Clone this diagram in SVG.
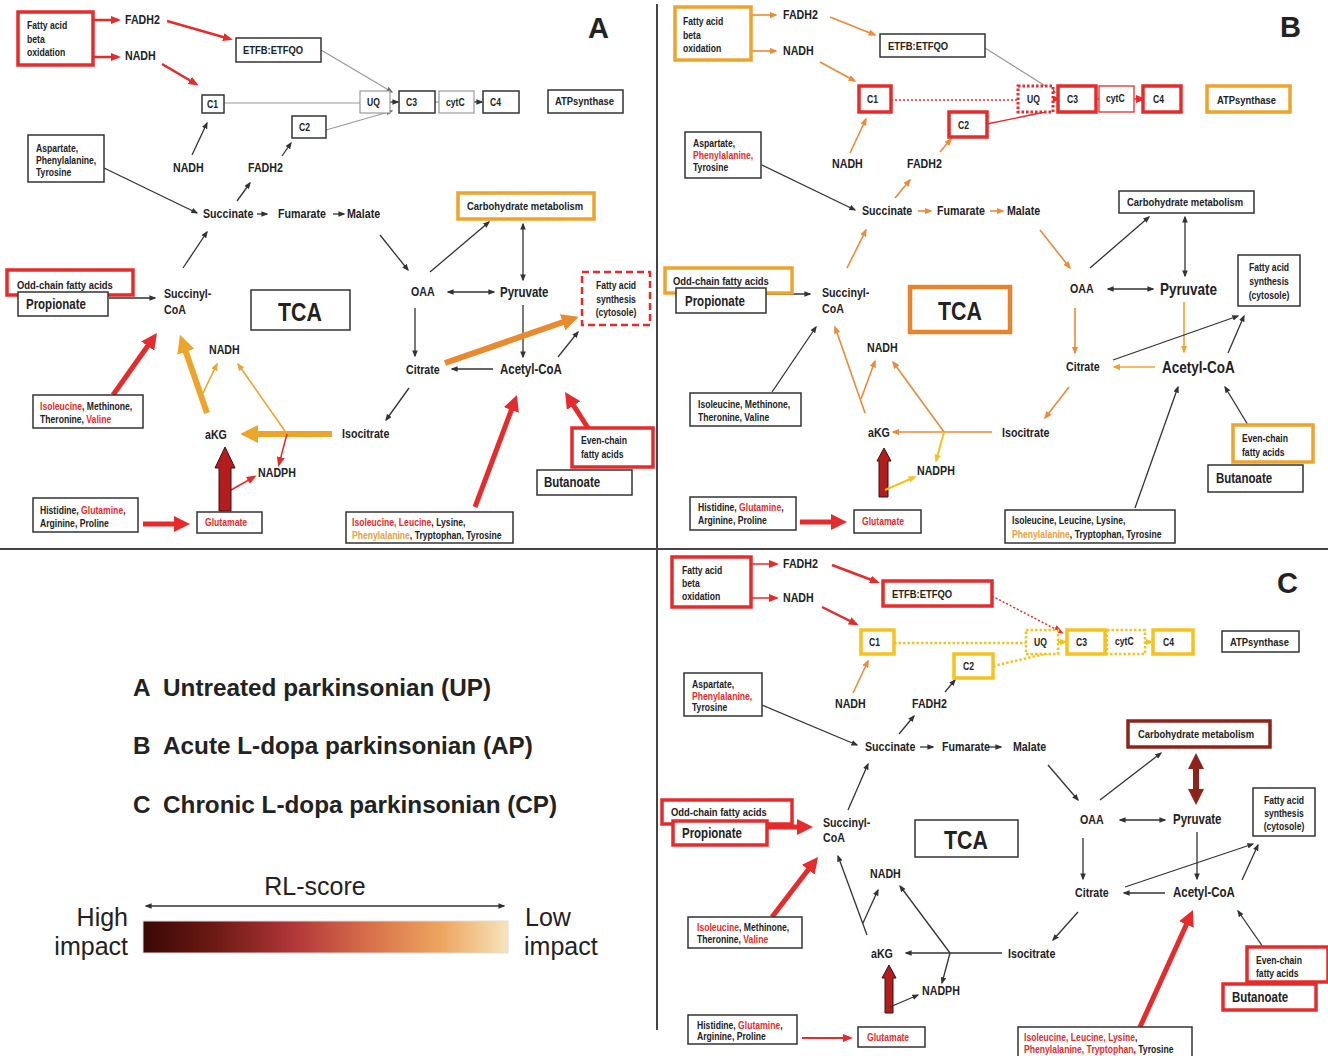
<svg xmlns="http://www.w3.org/2000/svg" width="1328" height="1056" viewBox="0 0 1328 1056">
<style>
text{font-family:"Liberation Sans Narrow","Liberation Sans",Arial,sans-serif;font-weight:bold;fill:#222;transform-box:fill-box;transform-origin:0% 50%;transform:scaleX(0.82)}
.m{font-size:13px}
.m14{font-size:14px}
.mb{font-size:16.5px}
.s{font-size:10.5px}
.s11{font-size:11.5px}
.p{font-size:14px}
.tca{font-size:26px;text-anchor:middle;transform-origin:50% 50%}
.big{font-family:"Liberation Sans",Arial,sans-serif;font-size:29px;transform:none}
.c{text-anchor:middle;transform-origin:50% 50%}
.lg{font-family:"Liberation Sans",Arial,sans-serif;transform:none}
.r{fill:#e52b2b}
.o{fill:#e8a040}
rect{fill:#fff}
.bx{stroke:#333;stroke-width:1.5}
.bg{stroke:#999;stroke-width:1.2}
.bR{stroke:#e52b2b;stroke-width:3.5}
.bRt{stroke:#e52b2b;stroke-width:1.3}
.bRd{stroke:#e52b2b;stroke-width:3;stroke-dasharray:2.5 2}
.bRD{stroke:#e52b2b;stroke-width:2.5;stroke-dasharray:7 4}
.bA{stroke:#eda42a;stroke-width:3.5}
.bT{stroke:#e8842e;stroke-width:4.5}
.bY{stroke:#f6c21c;stroke-width:3.5}
.bYd{stroke:#f6c21c;stroke-width:2.5;stroke-dasharray:2.5 2}
.bD{stroke:#8e2419;stroke-width:3.5}
#conn line{fill:none}
.k{stroke:#333;stroke-width:1.3;marker-end:url(#mk)}
.kd{stroke:#333;stroke-width:1.3;marker-end:url(#mk);marker-start:url(#mk)}
.g{stroke:#999;stroke-width:1.2;marker-end:url(#mg)}
.gn{stroke:#999;stroke-width:1.2}
.rt{stroke:#e52b2b;stroke-width:2.5;marker-end:url(#mr)}
.rs{stroke:#e52b2b;stroke-width:1.5;marker-end:url(#mr)}
.rd{stroke:#e52b2b;stroke-width:1.5;stroke-dasharray:2 2;marker-end:url(#mr)}
.rdn{stroke:#e52b2b;stroke-width:1.6;stroke-dasharray:2 2}
.rn{stroke:#e52b2b;stroke-width:1.3}
.R{stroke:#e52b2b;stroke-width:5;marker-end:url(#MR)}
.os{stroke:#ec8a36;stroke-width:1.6;marker-end:url(#mo)}
.as{stroke:#eda42a;stroke-width:1.6;marker-end:url(#ma)}
.ys{stroke:#f3c21d;stroke-width:2;marker-end:url(#my)}
.yd{stroke:#f6c21c;stroke-width:2.5;stroke-dasharray:2.5 2}
.O{stroke:#ea8a2e;stroke-width:6;marker-end:url(#MO)}
.A{stroke:#eda42a;stroke-width:6;marker-end:url(#MA)}
.D{stroke:#8e2419;stroke-width:6;marker-end:url(#MD);marker-start:url(#MD)}
.blk{fill:#b31d1d;stroke:#3a1010;stroke-width:1}
.div{stroke:#444;stroke-width:2}
</style>
<defs>
<marker id="mk" viewBox="0 0 10 8" refX="8" refY="4" markerWidth="7" markerHeight="5.6" markerUnits="userSpaceOnUse" orient="auto-start-reverse"><path d="M0,0 L10,4 L0,8 z" fill="#333"/></marker>
<marker id="mg" viewBox="0 0 10 8" refX="8" refY="4" markerWidth="7" markerHeight="5.6" markerUnits="userSpaceOnUse" orient="auto"><path d="M0,0 L10,4 L0,8 z" fill="#666"/></marker>
<marker id="mr" viewBox="0 0 10 8" refX="7" refY="4" markerWidth="10" markerHeight="8" markerUnits="userSpaceOnUse" orient="auto"><path d="M0,0 L10,4 L0,8 z" fill="#e52b2b"/></marker>
<marker id="mo" viewBox="0 0 10 8" refX="8" refY="4" markerWidth="8" markerHeight="6.4" markerUnits="userSpaceOnUse" orient="auto"><path d="M0,0 L10,4 L0,8 z" fill="#ec8a36"/></marker>
<marker id="ma" viewBox="0 0 10 8" refX="8" refY="4" markerWidth="8" markerHeight="6.4" markerUnits="userSpaceOnUse" orient="auto"><path d="M0,0 L10,4 L0,8 z" fill="#eda42a"/></marker>
<marker id="my" viewBox="0 0 10 8" refX="8" refY="4" markerWidth="8" markerHeight="6.4" markerUnits="userSpaceOnUse" orient="auto"><path d="M0,0 L10,4 L0,8 z" fill="#f3c21d"/></marker>
<marker id="MR" viewBox="0 0 10 10" refX="4" refY="5" markerWidth="16" markerHeight="16" markerUnits="userSpaceOnUse" orient="auto"><path d="M0,0 L10,5 L0,10 z" fill="#e52b2b"/></marker>
<marker id="MO" viewBox="0 0 10 10" refX="4" refY="5" markerWidth="17" markerHeight="17" markerUnits="userSpaceOnUse" orient="auto"><path d="M0,0 L10,5 L0,10 z" fill="#ea8a2e"/></marker>
<marker id="MA" viewBox="0 0 10 10" refX="4" refY="5" markerWidth="18" markerHeight="18" markerUnits="userSpaceOnUse" orient="auto"><path d="M0,0 L10,5 L0,10 z" fill="#eda42a"/></marker>
<marker id="MD" viewBox="0 0 10 10" refX="4" refY="5" markerWidth="16" markerHeight="16" markerUnits="userSpaceOnUse" orient="auto-start-reverse"><path d="M0,0 L10,5 L0,10 z" fill="#8e2419"/></marker>
<linearGradient id="rl" x1="0" y1="0" x2="1" y2="0">
<stop offset="0" stop-color="#3a0806"/><stop offset="0.2" stop-color="#6e1a14"/><stop offset="0.42" stop-color="#b3383a"/><stop offset="0.62" stop-color="#d8704a"/><stop offset="0.82" stop-color="#eea660"/><stop offset="1" stop-color="#f6e4bc"/>
</linearGradient>
</defs>
<rect x="0" y="0" width="1328" height="1056" style="fill:#fff;stroke:none"/>

<!-- dividers -->
<line class="div" x1="0" y1="549" x2="1328" y2="549"/>
<line class="div" x1="657" y1="4" x2="657" y2="1030"/>

<!-- connectors -->
<g id="conn">
<!-- Panel A -->
<line class="rt" x1="93" y1="20" x2="118" y2="20"/>
<line class="rt" x1="93" y1="57" x2="118" y2="57"/>
<line class="rt" x1="167" y1="21" x2="230" y2="39"/>
<line class="rt" x1="162" y1="64" x2="196" y2="84"/>
<line class="g" x1="321" y1="50" x2="392" y2="92"/>
<line class="gn" x1="224" y1="103" x2="360" y2="103"/>
<line class="g" x1="326" y1="130" x2="392" y2="111"/>
<line class="k" x1="390" y1="102" x2="398" y2="102"/>
<line class="gn" x1="435" y1="102" x2="439" y2="102"/>
<line class="k" x1="474" y1="102" x2="482" y2="102"/>
<line class="k" x1="192" y1="155" x2="207" y2="123"/>
<line class="k" x1="282" y1="156" x2="291" y2="143"/>
<line class="k" x1="237" y1="201" x2="250" y2="183"/>
<line class="k" x1="104" y1="168" x2="197" y2="213"/>
<line class="k" x1="257" y1="214" x2="267" y2="214"/>
<line class="k" x1="333" y1="214" x2="344" y2="214"/>
<line class="k" x1="183" y1="268" x2="207" y2="232"/>
<line class="k" x1="380" y1="235" x2="408" y2="270"/>
<line class="k" x1="430" y1="272" x2="489" y2="222"/>
<line class="kd" x1="523" y1="224" x2="523" y2="280"/>
<line class="kd" x1="448" y1="292" x2="494" y2="292"/>
<line class="k" x1="415" y1="308" x2="415" y2="356"/>
<line class="k" x1="523" y1="305" x2="523" y2="357"/>
<line class="k" x1="493" y1="369" x2="452" y2="369"/>
<line class="k" x1="558" y1="357" x2="578" y2="332"/>
<line class="k" x1="409" y1="388" x2="386" y2="420"/>
<line class="k" x1="109" y1="298" x2="155" y2="298"/>
<line class="O" x1="445" y1="363" x2="569" y2="320"/>
<line class="R" x1="113" y1="395" x2="151.4" y2="340.8"/>
<line class="A" x1="207" y1="413" x2="183.5" y2="345"/>
<line class="A" x1="332" y1="434" x2="251" y2="434"/>
<line class="as" x1="203" y1="393" x2="217" y2="364"/>
<line class="as" x1="287" y1="434" x2="238" y2="364"/>
<line class="rs" x1="287" y1="434" x2="279" y2="464"/>
<line class="rs" x1="231" y1="490" x2="254" y2="477"/>
<line class="R" x1="143" y1="524" x2="180.4" y2="524"/>
<line class="R" x1="475" y1="507" x2="513.6" y2="404"/>
<line class="R" x1="588" y1="428" x2="570.2" y2="400.1"/>
<polygon class="blk" points="225,447 235,468 231,468 231,511 219,511 219,468 215,468"/>

<!-- Panel B -->
<line class="os" x1="751" y1="15" x2="776" y2="15"/>
<line class="os" x1="751" y1="51" x2="776" y2="51"/>
<line class="os" x1="830" y1="17" x2="875" y2="35"/>
<line class="os" x1="820" y1="62" x2="855" y2="81"/>
<line class="g" x1="985" y1="48" x2="1055" y2="92"/>
<line class="rdn" x1="891" y1="100" x2="1018" y2="100"/>
<line class="rn" x1="987" y1="124" x2="1045" y2="112"/>
<line class="rs" x1="1053" y1="99" x2="1058" y2="99"/>
<line class="rn" x1="1096" y1="99" x2="1099" y2="99"/>
<line class="rs" x1="1134" y1="99" x2="1143" y2="99"/>
<line class="os" x1="850" y1="153" x2="866" y2="119"/>
<line class="os" x1="940" y1="152" x2="951" y2="139"/>
<line class="os" x1="895" y1="198" x2="910" y2="180"/>
<line class="k" x1="762" y1="165" x2="855" y2="210"/>
<line class="os" x1="918" y1="211" x2="931" y2="211"/>
<line class="os" x1="990" y1="211" x2="1003" y2="211"/>
<line class="os" x1="847" y1="268" x2="866" y2="230"/>
<line class="os" x1="1040" y1="230" x2="1070" y2="268"/>
<line class="k" x1="1090" y1="268" x2="1149" y2="217"/>
<line class="kd" x1="1185" y1="217" x2="1185" y2="276"/>
<line class="kd" x1="1108" y1="289" x2="1153" y2="289"/>
<line class="as" x1="1184" y1="302" x2="1184" y2="352"/>
<line class="os" x1="1075" y1="308" x2="1075" y2="353"/>
<line class="as" x1="1155" y1="367" x2="1114" y2="367"/>
<line class="k" x1="1113" y1="360" x2="1238" y2="316"/>
<line class="k" x1="1228" y1="353" x2="1244" y2="316"/>
<line class="os" x1="1069" y1="387" x2="1045" y2="418"/>
<line class="os" x1="992" y1="432" x2="893" y2="432"/>
<line class="os" x1="944" y1="432" x2="893" y2="362"/>
<line class="ys" x1="944" y1="432" x2="936" y2="461"/>
<line class="os" x1="865" y1="413" x2="835" y2="327"/>
<line class="os" x1="861" y1="399" x2="875" y2="361"/>
<line class="k" x1="766" y1="294" x2="810" y2="294"/>
<line class="k" x1="772" y1="392" x2="816" y2="327"/>
<polygon class="blk" points="884,448 891,461 888,461 888,497 879,497 879,461 877,461"/>
<line class="ys" x1="885" y1="490" x2="915" y2="477"/>
<line class="R" x1="800" y1="522" x2="837.4" y2="522"/>
<line class="k" x1="1135" y1="508" x2="1178" y2="387"/>
<line class="k" x1="1248" y1="425" x2="1225" y2="387"/>

<!-- Panel C -->
<line class="rs" x1="752" y1="564" x2="776" y2="564"/>
<line class="rs" x1="752" y1="598" x2="776" y2="598"/>
<line class="rt" x1="832" y1="565" x2="877" y2="582"/>
<line class="rt" x1="822" y1="607" x2="856" y2="624"/>
<line class="rd" x1="992" y1="596" x2="1061" y2="632"/>
<line class="yd" x1="894" y1="643" x2="1026" y2="643"/>
<line class="yd" x1="993" y1="666" x2="1058" y2="651"/>
<line class="ys" x1="1058" y1="642" x2="1066" y2="642"/>
<line class="ys" x1="1145" y1="642" x2="1152" y2="642"/>
<line class="os" x1="853" y1="693" x2="868" y2="661"/>
<line class="k" x1="945" y1="692" x2="955" y2="680"/>
<line class="k" x1="899" y1="734" x2="914" y2="716"/>
<line class="k" x1="762" y1="705" x2="857" y2="745"/>
<line class="k" x1="920" y1="747" x2="933" y2="747"/>
<line class="k" x1="988" y1="747" x2="1001" y2="747"/>
<line class="k" x1="848" y1="810" x2="868" y2="764"/>
<line class="k" x1="1048" y1="765" x2="1078" y2="800"/>
<line class="k" x1="1100" y1="800" x2="1161" y2="753"/>
<line class="D" x1="1196" y1="762.6" x2="1196" y2="795.4"/>
<line class="kd" x1="1120" y1="820" x2="1165" y2="820"/>
<line class="k" x1="1083" y1="838" x2="1083" y2="879"/>
<line class="k" x1="1197" y1="832" x2="1197" y2="879"/>
<line class="k" x1="1165" y1="893" x2="1124" y2="893"/>
<line class="k" x1="1125" y1="887" x2="1253" y2="844"/>
<line class="k" x1="1242" y1="880" x2="1258" y2="845"/>
<line class="k" x1="1078" y1="912" x2="1053" y2="940"/>
<line class="k" x1="1002" y1="953" x2="906" y2="953"/>
<line class="k" x1="950" y1="953" x2="900" y2="886"/>
<line class="k" x1="950" y1="953" x2="942" y2="983"/>
<line class="k" x1="867" y1="935" x2="838" y2="856"/>
<line class="k" x1="863" y1="923" x2="878" y2="890"/>
<line class="R" x1="767" y1="827" x2="803.4" y2="827"/>
<line class="R" x1="772" y1="917" x2="812.2" y2="864.6"/>
<polygon class="blk" points="889,965 896,978 893,978 893,1013 885,1013 885,978 882,978"/>
<line class="k" x1="890" y1="1007" x2="918" y2="995"/>
<line style="stroke:#e52b2b;stroke-width:2;marker-end:url(#mr)" x1="802" y1="1038" x2="850" y2="1038"/>
<line class="R" x1="1140" y1="1027" x2="1189" y2="918.7"/>
<line class="k" x1="1263" y1="947" x2="1238" y2="911"/>
</g>

<!-- ===== Panel A nodes ===== -->
<g id="A-fabox"><rect class="bR" x="18" y="12" width="75" height="53"/><text class="s" x="27" y="29">Fatty acid</text><text class="s" x="27" y="43">beta</text><text class="s" x="27" y="56">oxidation</text></g>
<g id="A-fadh2a"><text class="m" x="125" y="24">FADH2</text></g>
<g id="A-nadha"><text class="m" x="125" y="60">NADH</text></g>
<g id="A-etfb"><rect class="bx" x="236" y="38" width="85" height="24"/><text class="s11" x="243" y="54">ETFB:ETFQO</text></g>
<g id="A-c1"><rect class="bx" x="202" y="95" width="22" height="18"/><text class="s" x="207" y="108">C1</text></g>
<g id="A-uq"><rect class="bg" x="360" y="91" width="30" height="22"/><text class="s" x="367" y="106">UQ</text></g>
<g id="A-c3"><rect class="bx" x="399" y="91" width="36" height="22"/><text class="s" x="406" y="106">C3</text></g>
<g id="A-cytc"><rect class="bg" x="439" y="91" width="35" height="22"/><text class="s" x="446" y="106">cytC</text></g>
<g id="A-c4"><rect class="bx" x="483" y="91" width="36" height="22"/><text class="s" x="490" y="106">C4</text></g>
<g id="A-atp"><rect class="bx" x="548" y="90" width="75" height="23"/><text class="s11" x="555" y="105">ATPsynthase</text></g>
<g id="A-c2"><rect class="bx" x="292" y="116" width="34" height="22"/><text class="s" x="299" y="131">C2</text></g>
<g id="A-label"><text class="big" x="588" y="38">A</text></g>
<g id="A-nadhb"><text class="m" x="173" y="172">NADH</text></g>
<g id="A-fadh2b"><text class="m" x="248" y="172">FADH2</text></g>
<g id="A-asp"><rect class="bx" x="28" y="135" width="76" height="47"/><text class="s" x="36" y="152">Aspartate,</text><text class="s" x="36" y="164">Phenylalanine,</text><text class="s" x="36" y="176">Tyrosine</text></g>
<g id="A-succ"><text class="m" x="203" y="218">Succinate</text></g>
<g id="A-fum"><text class="m" x="278" y="218">Fumarate</text></g>
<g id="A-mal"><text class="m" x="347" y="218">Malate</text></g>
<g id="A-carb"><rect class="bA" x="458" y="193" width="136" height="26"/><text class="s11" x="467" y="210">Carbohydrate metabolism</text></g>
<g id="A-odd"><rect class="bR" x="7" y="270" width="126" height="25"/><text class="s11" x="17" y="289">Odd-chain fatty acids</text></g>
<g id="A-prop"><rect class="bx" x="18" y="292" width="90" height="24"/><text class="p" x="26" y="309">Propionate</text></g>
<g id="A-succoa"><text class="m" x="164" y="298">Succinyl-</text><text class="m" x="164" y="314">CoA</text></g>
<g id="A-tca"><rect class="bx" x="251" y="290" width="99" height="40"/><text class="tca" x="300" y="321">TCA</text></g>
<g id="A-oaa"><text class="m" x="411" y="296">OAA</text></g>
<g id="A-pyr"><text class="m14" x="500" y="297">Pyruvate</text></g>
<g id="A-fas"><rect class="bRD" x="582" y="272" width="68" height="53"/><text class="s c" x="616" y="289">Fatty acid</text><text class="s c" x="616" y="303">synthesis</text><text class="s c" x="616" y="316">(cytosole)</text></g>
<g id="A-nadhc"><text class="m" x="209" y="354">NADH</text></g>
<g id="A-cit"><text class="m" x="406" y="374">Citrate</text></g>
<g id="A-acoa"><text class="m14" x="500" y="374">Acetyl-CoA</text></g>
<g id="A-ile"><rect class="bx" x="33" y="395" width="110" height="33"/><text class="s" x="40" y="410"><tspan class="r">Isoleucine</tspan>, Methinone,</text><text class="s" x="40" y="423">Theronine, <tspan class="r">Valine</tspan></text></g>
<g id="A-akg"><text class="m" x="205" y="439">aKG</text></g>
<g id="A-isocit"><text class="m" x="342" y="438">Isocitrate</text></g>
<g id="A-nadph"><text class="m" x="258" y="477">NADPH</text></g>
<g id="A-even"><rect class="bR" x="572" y="428" width="81" height="39"/><text class="s" x="581" y="444">Even-chain</text><text class="s" x="581" y="458">fatty acids</text></g>
<g id="A-but"><rect class="bx" x="537" y="470" width="95" height="25"/><text class="p" x="544" y="487">Butanoate</text></g>
<g id="A-his"><rect class="bx" x="33" y="498" width="105" height="34"/><text class="s" x="40" y="514">Histidine, <tspan class="r">Glutamine</tspan>,</text><text class="s" x="40" y="527">Arginine, Proline</text></g>
<g id="A-glu"><rect class="bx" x="197" y="512" width="65" height="21"/><text class="s r" x="205" y="526">Glutamate</text></g>
<g id="A-ileu"><rect class="bx" x="346" y="512" width="167" height="31"/><text class="s" x="352" y="526"><tspan class="r">Isoleucine, Leucine</tspan>, Lysine,</text><text class="s" x="352" y="539"><tspan class="o">Phenylalanine</tspan>, Tryptophan, Tyrosine</text></g>

<!-- ===== Panel B nodes ===== -->
<g id="B-fabox"><rect class="bA" x="675" y="7" width="76" height="53"/><text class="s" x="683" y="25">Fatty acid</text><text class="s" x="683" y="39">beta</text><text class="s" x="683" y="52">oxidation</text></g>
<g id="B-fadh2a"><text class="m" x="783" y="19">FADH2</text></g>
<g id="B-nadha"><text class="m" x="783" y="55">NADH</text></g>
<g id="B-etfb"><rect class="bx" x="880" y="34" width="105" height="23"/><text class="s11" x="888" y="50">ETFB:ETFQO</text></g>
<g id="B-c1"><rect class="bR" x="859" y="86" width="32" height="26"/><text class="s" x="867" y="103">C1</text></g>
<g id="B-uq"><rect class="bRd" x="1018" y="86" width="35" height="26"/><text class="s" x="1027" y="103">UQ</text></g>
<g id="B-c3"><rect class="bR" x="1058" y="86" width="38" height="26"/><text class="s" x="1067" y="103">C3</text></g>
<g id="B-cytc"><rect class="bRt" x="1099" y="86" width="35" height="26"/><text class="s" x="1106" y="102">cytC</text></g>
<g id="B-c4"><rect class="bR" x="1143" y="86" width="38" height="26"/><text class="s" x="1153" y="103">C4</text></g>
<g id="B-atp"><rect class="bA" x="1207" y="86" width="83" height="26"/><text class="s11" x="1217" y="104">ATPsynthase</text></g>
<g id="B-c2"><rect class="bR" x="949" y="112" width="38" height="25"/><text class="s" x="958" y="129">C2</text></g>
<g id="B-label"><text class="big" x="1280" y="37">B</text></g>
<g id="B-nadhb"><text class="m" x="832" y="168">NADH</text></g>
<g id="B-fadh2b"><text class="m" x="907" y="168">FADH2</text></g>
<g id="B-asp"><rect class="bx" x="685" y="132" width="76" height="46"/><text class="s" x="693" y="147">Aspartate,</text><text class="s r" x="693" y="159">Phenylalanine,</text><text class="s" x="693" y="171">Tyrosine</text></g>
<g id="B-succ"><text class="m" x="862" y="215">Succinate</text></g>
<g id="B-fum"><text class="m" x="937" y="215">Fumarate</text></g>
<g id="B-mal"><text class="m" x="1007" y="215">Malate</text></g>
<g id="B-carb"><rect class="bx" x="1119" y="191" width="135" height="22"/><text class="s11" x="1127" y="206">Carbohydrate metabolism</text></g>
<g id="B-odd"><rect class="bA" x="665" y="268" width="127" height="25"/><text class="s11" x="673" y="285">Odd-chain fatty acids</text></g>
<g id="B-prop"><rect class="bx" x="676" y="288" width="90" height="25"/><text class="p" x="685" y="306">Propionate</text></g>
<g id="B-succoa"><text class="m" x="822" y="297">Succinyl-</text><text class="m" x="822" y="313">CoA</text></g>
<g id="B-tca"><rect class="bT" x="910" y="287" width="100" height="45"/><text class="tca" x="960" y="320">TCA</text></g>
<g id="B-oaa"><text class="m" x="1070" y="293">OAA</text></g>
<g id="B-pyr"><text class="mb" x="1160" y="295">Pyruvate</text></g>
<g id="B-fas"><rect class="bx" x="1238" y="255" width="62" height="51"/><text class="s c" x="1269" y="271">Fatty acid</text><text class="s c" x="1269" y="285">synthesis</text><text class="s c" x="1269" y="299">(cytosole)</text></g>
<g id="B-nadhc"><text class="m" x="867" y="352">NADH</text></g>
<g id="B-cit"><text class="m" x="1066" y="371">Citrate</text></g>
<g id="B-acoa"><text class="mb" x="1162" y="373">Acetyl-CoA</text></g>
<g id="B-ile"><rect class="bx" x="690" y="393" width="111" height="33"/><text class="s" x="698" y="408">Isoleucine, Methinone,</text><text class="s" x="698" y="421">Theronine, Valine</text></g>
<g id="B-akg"><text class="m" x="868" y="437">aKG</text></g>
<g id="B-isocit"><text class="m" x="1002" y="437">Isocitrate</text></g>
<g id="B-nadph"><text class="m" x="917" y="475">NADPH</text></g>
<g id="B-even"><rect class="bA" x="1233" y="425" width="80" height="37"/><text class="s" x="1242" y="442">Even-chain</text><text class="s" x="1242" y="456">fatty acids</text></g>
<g id="B-but"><rect class="bx" x="1208" y="465" width="95" height="27"/><text class="p" x="1216" y="483">Butanoate</text></g>
<g id="B-his"><rect class="bx" x="690" y="497" width="106" height="33"/><text class="s" x="698" y="511">Histidine, <tspan class="r">Glutamine</tspan>,</text><text class="s" x="698" y="524">Arginine, Proline</text></g>
<g id="B-glu"><rect class="bx" x="854" y="510" width="67" height="23"/><text class="s r" x="862" y="525">Glutamate</text></g>
<g id="B-ileu"><rect class="bx" x="1005" y="510" width="170" height="33"/><text class="s" x="1012" y="524">Isoleucine, Leucine, Lysine,</text><text class="s" x="1012" y="538"><tspan class="o">Phenylalanine</tspan>, Tryptophan, Tyrosine</text></g>

<!-- ===== Panel C nodes ===== -->
<g id="C-fabox"><rect class="bR" x="672" y="557" width="79" height="50"/><text class="s" x="682" y="574">Fatty acid</text><text class="s" x="682" y="587">beta</text><text class="s" x="682" y="600">oxidation</text></g>
<g id="C-fadh2a"><text class="m" x="783" y="568">FADH2</text></g>
<g id="C-nadha"><text class="m" x="783" y="602">NADH</text></g>
<g id="C-etfb"><rect class="bR" x="883" y="581" width="109" height="25"/><text class="s11" x="892" y="598">ETFB:ETFQO</text></g>
<g id="C-c1"><rect class="bY" x="861" y="630" width="33" height="24"/><text class="s" x="869" y="646">C1</text></g>
<g id="C-uq"><rect class="bYd" x="1026" y="630" width="32" height="24"/><text class="s" x="1034" y="646">UQ</text></g>
<g id="C-c3"><rect class="bY" x="1067" y="630" width="38" height="24"/><text class="s" x="1076" y="646">C3</text></g>
<g id="C-cytc"><rect class="bYd" x="1107" y="630" width="38" height="24"/><text class="s" x="1115" y="645">cytC</text></g>
<g id="C-c4"><rect class="bY" x="1153" y="630" width="40" height="24"/><text class="s" x="1163" y="646">C4</text></g>
<g id="C-atp"><rect class="bx" x="1222" y="631" width="77" height="21"/><text class="s11" x="1230" y="646">ATPsynthase</text></g>
<g id="C-c2"><rect class="bY" x="954" y="654" width="39" height="24"/><text class="s" x="963" y="670">C2</text></g>
<g id="C-label"><text class="big" x="1277" y="593">C</text></g>
<g id="C-nadhb"><text class="m" x="835" y="708">NADH</text></g>
<g id="C-fadh2b"><text class="m" x="912" y="708">FADH2</text></g>
<g id="C-asp"><rect class="bx" x="684" y="673" width="78" height="43"/><text class="s" x="692" y="688">Aspartate,</text><text class="s r" x="692" y="700">Phenylalanine,</text><text class="s" x="692" y="711">Tyrosine</text></g>
<g id="C-succ"><text class="m" x="865" y="751">Succinate</text></g>
<g id="C-fum"><text class="m" x="942" y="751">Fumarate</text></g>
<g id="C-mal"><text class="m" x="1013" y="751">Malate</text></g>
<g id="C-carb"><rect class="bD" x="1128" y="721" width="142" height="26"/><text class="s11" x="1138" y="738">Carbohydrate metabolism</text></g>
<g id="C-odd"><rect class="bR" x="662" y="800" width="130" height="24"/><text class="s11" x="671" y="816">Odd-chain fatty acids</text></g>
<g id="C-prop"><rect class="bR" x="673" y="821" width="94" height="24"/><text class="p" x="682" y="838">Propionate</text></g>
<g id="C-succoa"><text class="m" x="823" y="827">Succinyl-</text><text class="m" x="823" y="842">CoA</text></g>
<g id="C-tca"><rect class="bx" x="915" y="820" width="103" height="37"/><text class="tca" x="966" y="849">TCA</text></g>
<g id="C-oaa"><text class="m" x="1080" y="824">OAA</text></g>
<g id="C-pyr"><text class="m14" x="1173" y="824">Pyruvate</text></g>
<g id="C-fas"><rect class="bx" x="1253" y="788" width="62" height="48"/><text class="s c" x="1284" y="804">Fatty acid</text><text class="s c" x="1284" y="817">synthesis</text><text class="s c" x="1284" y="830">(cytosole)</text></g>
<g id="C-nadhc"><text class="m" x="870" y="878">NADH</text></g>
<g id="C-cit"><text class="m" x="1075" y="897">Citrate</text></g>
<g id="C-acoa"><text class="m14" x="1173" y="897">Acetyl-CoA</text></g>
<g id="C-ile"><rect class="bx" x="688" y="917" width="114" height="31"/><text class="s" x="697" y="931"><tspan class="r">Isoleucine</tspan>, Methinone,</text><text class="s" x="697" y="943">Theronine, <tspan class="r">Valine</tspan></text></g>
<g id="C-akg"><text class="m" x="871" y="958">aKG</text></g>
<g id="C-isocit"><text class="m" x="1008" y="958">Isocitrate</text></g>
<g id="C-nadph"><text class="m" x="922" y="995">NADPH</text></g>
<g id="C-even"><rect class="bR" x="1247" y="947" width="81" height="35"/><text class="s" x="1256" y="964">Even-chain</text><text class="s" x="1256" y="977">fatty acids</text></g>
<g id="C-but"><rect class="bR" x="1223" y="984" width="93" height="26"/><text class="p" x="1232" y="1002">Butanoate</text></g>
<g id="C-his"><rect class="bx" x="688" y="1015" width="109" height="29"/><text class="s" x="697" y="1029">Histidine, <tspan class="r">Glutamine</tspan>,</text><text class="s" x="697" y="1040">Arginine, Proline</text></g>
<g id="C-glu"><rect class="bx" x="858" y="1027" width="67" height="20"/><text class="s r" x="867" y="1041">Glutamate</text></g>
<g id="C-ileu"><rect class="bx" x="1018" y="1027" width="174" height="32"/><text class="s" x="1024" y="1041"><tspan class="r">Isoleucine, Leucine, Lysine</tspan>,</text><text class="s" x="1024" y="1053"><tspan class="r">Phenylalanine, Tryptophan</tspan>, Tyrosine</text></g>

<!-- ===== Legend ===== -->
<g id="legend">
<text class="lg" x="133" y="696" style="font-size:24.3px">A</text>
<text class="lg" x="163" y="696" style="font-size:24.3px">Untreated parkinsonian (UP)</text>
<text class="lg" x="133" y="754" style="font-size:24.3px">B</text>
<text class="lg" x="163" y="754" style="font-size:24.3px">Acute L-dopa parkinsonian (AP)</text>
<text class="lg" x="133" y="813" style="font-size:24.3px">C</text>
<text class="lg" x="163" y="813" style="font-size:24.3px">Chronic L-dopa parkinsonian (CP)</text>
<text class="lg" x="315" y="895" style="font-weight:normal;font-size:25px;text-anchor:middle">RL-score</text>
<line x1="146" y1="906" x2="504" y2="906" style="stroke:#333;stroke-width:1.3;marker-end:url(#mk);marker-start:url(#mk)"/>
<rect x="143" y="921" width="365" height="32" style="fill:url(#rl);stroke:#ddd;stroke-width:1"/>
<text class="lg" x="128" y="926" style="font-weight:normal;font-size:25px;text-anchor:end">High</text>
<text class="lg" x="128" y="955" style="font-weight:normal;font-size:25px;text-anchor:end">impact</text>
<text class="lg" x="525" y="926" style="font-weight:normal;font-size:25px">Low</text>
<text class="lg" x="524" y="955" style="font-weight:normal;font-size:25px">impact</text>
</g>
</svg>
